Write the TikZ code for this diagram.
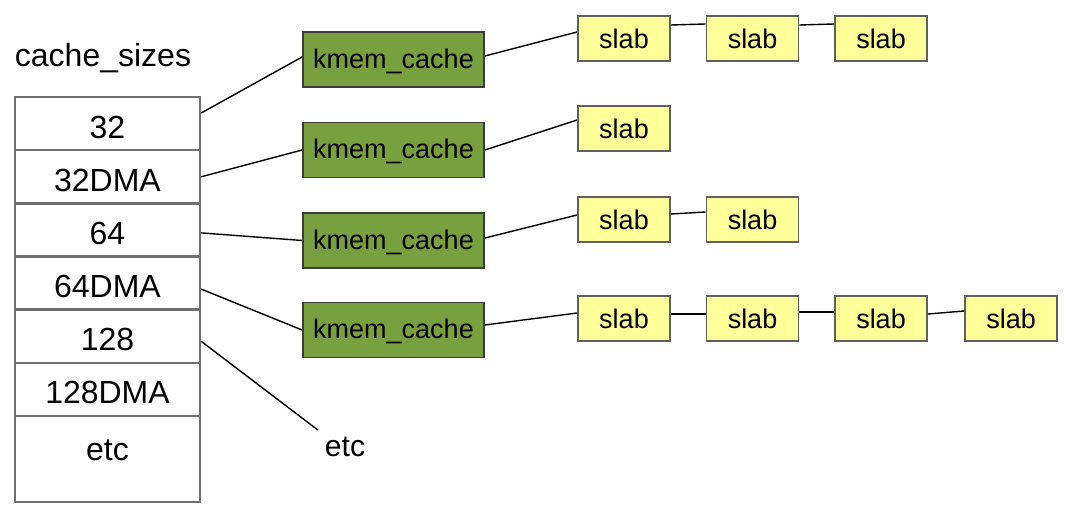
\documentclass[tikz,border=0pt]{standalone}
\usepackage{fontspec}
\setmainfont{Liberation Sans}
\definecolor{cachegreen}{HTML}{78A03F}
\definecolor{slabyellow}{HTML}{FFFF99}
\definecolor{cellgray}{HTML}{707070}
\definecolor{slabgray}{HTML}{606060}
\definecolor{cacheedge}{HTML}{3C3C3C}
\tikzset{
  sizecell/.style={draw=cellgray, line width=1.2pt, minimum width=92.5pt,
    minimum height=26.6pt, inner sep=0pt, text height=14.5pt, text depth=0pt,
    font=\fontsize{16}{18}\selectfont},
  cachebox/.style={draw=cacheedge, fill=cachegreen, line width=0.9pt,
    minimum width=90.5pt, minimum height=27.5pt, inner sep=0pt,
    text height=11pt, text depth=2pt, font=\fontsize{13.5}{15}\selectfont},
  slabbox/.style={draw=slabgray, fill=slabyellow, line width=0.9pt,
    minimum width=46pt, minimum height=22.5pt, inner sep=0pt,
    text height=11pt, text depth=1pt, font=\fontsize{13.5}{15}\selectfont},
  link/.style={line width=0.7pt}
}
\begin{document}
\begin{tikzpicture}[x=0.5pt,y=-0.5pt]
  \useasboundingbox (0,0) rectangle (1068,517);
  % the cache_sizes table
  \node[font=\fontsize{16}{18}\selectfont] (title) at (103,58) {cache\_sizes};
  \node[sizecell] (s32) at (107.5,123.6) {32};
  \node[sizecell] (s32d) at (107.5,176.8) {32DMA};
  \node[sizecell] (s64) at (107.5,229.9) {64};
  \node[sizecell] (s64d) at (107.5,283.1) {64DMA};
  \node[sizecell] (s128) at (107.5,336.3) {128};
  \node[sizecell] (s128d) at (107.5,389.4) {128DMA};
  \node[sizecell, minimum height=43pt, text height=8pt, text depth=7pt] (setc) at (107.5,459) {etc};
  % caches
  \node[cachebox] (k1) at (393.5,59.5) {kmem\_cache};
  \node[cachebox] (k2) at (393.5,150) {kmem\_cache};
  \node[cachebox] (k3) at (393.5,240.5) {kmem\_cache};
  \node[cachebox] (k4) at (393.5,330) {kmem\_cache};
  \node[font=\fontsize{15}{17}\selectfont] (etc) at (345,447) {etc};
  % slabs
  \node[slabbox] (sl11) at (624,38.5) {slab};
  \node[slabbox] (sl12) at (752.5,38.5) {slab};
  \node[slabbox] (sl13) at (881,38.5) {slab};
  \node[slabbox] (sl21) at (624,128.5) {slab};
  \node[slabbox] (sl31) at (624,219.5) {slab};
  \node[slabbox] (sl32) at (752.5,219.5) {slab};
  \node[slabbox] (sl41) at (624,318.5) {slab};
  \node[slabbox] (sl42) at (752.5,318.5) {slab};
  \node[slabbox] (sl43) at (881,318.5) {slab};
  \node[slabbox] (sl44) at (1011,318.5) {slab};
  % table to caches
  \draw[link] ([yshift=5.3pt]s32.east) -- ([yshift=1.25pt]k1.west);
  \draw[link] (s32d.east) -- (k2.west);
  \draw[link] ([yshift=-1.5pt]s64.east) -- (k3.west);
  \draw[link] ([yshift=-3pt]s64d.east) -- (k4.west);
  \draw[link] ([yshift=-2.5pt]s128.east) -- (etc.north west);
  % caches to slabs
  \draw[link] ([yshift=1.75pt]k1.east) -- ([yshift=3.25pt]sl11.west);
  \draw[link] (k2.east) -- ([yshift=4.25pt]sl21.west);
  \draw[link] ([yshift=1.25pt]k3.east) -- ([yshift=2.25pt]sl31.west);
  \draw[link] ([yshift=2.5pt]k4.east) -- ([yshift=2.75pt]sl41.west);
  % slab chains
  \draw[link] ([yshift=6.75pt]sl11.east) -- ([yshift=7.25pt]sl12.west);
  \draw[link] ([yshift=6.75pt]sl12.east) -- ([yshift=7.25pt]sl13.west);
  \draw[link] ([yshift=2.75pt]sl31.east) -- ([yshift=3.75pt]sl32.west);
  \draw[link] ([yshift=2.25pt]sl41.east) -- ([yshift=2.25pt]sl42.west);
  \draw[link] ([yshift=3.25pt]sl42.east) -- ([yshift=3.25pt]sl43.west);
  \draw[link] ([yshift=2.25pt]sl43.east) -- ([yshift=3.75pt]sl44.west);
\end{tikzpicture}
\end{document}
